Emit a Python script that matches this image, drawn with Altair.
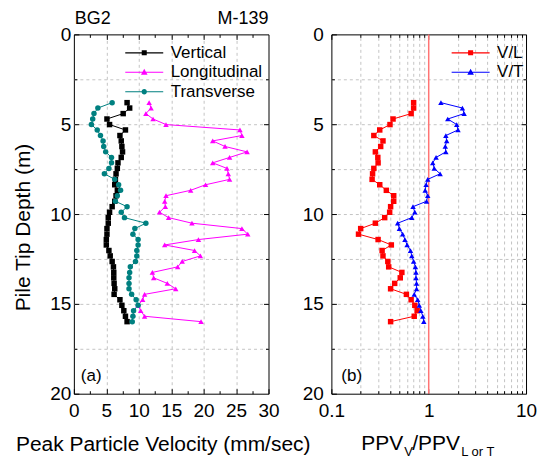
import altair as alt
import pandas as pd

# ---------------- data ----------------
depth_m = [3.80, 4.10, 4.41, 4.71, 5.02, 5.32, 5.63, 5.93, 6.24, 6.54,
           6.85, 7.15, 7.46, 7.76, 8.07, 8.37, 8.68, 8.98, 9.29, 9.59,
           9.90, 10.20, 10.51, 10.81, 11.12, 11.42, 11.72, 12.03, 12.33, 12.64,
           12.94, 13.25, 13.55, 13.86, 14.16, 14.47, 14.77, 15.08, 15.38, 15.69,
           15.99]

ppv_vertical = [8.2, 8.6, 7.6, 5.1, 5.5, 7.95, 7.1, 7.3, 7.4, 7.5,
                7.3, 6.8, 6.7, 6.5, 6.4, 6.3, 6.7, 6.5, 6.3, 5.9,
                5.5, 5.3, 5.3, 5.1, 5.1, 5.0, 5.0, 5.4, 5.6, 5.9,
                6.1, 6.15, 6.15, 6.2, 6.3, 6.2, 7.1, 7.4, 7.7, 7.95,
                8.2]

ppv_longitudinal = [11.6, 11.9, 11.1, 12.2, 14.2, 25.6, 25.9, 21.4, 23.3, 26.7,
                    24.0, 21.4, 23.6, 23.8, 24.0, 20.3, 18.0, 14.2, 14.0, 14.1,
                    13.2, 14.6, 18.2, 25.9, 26.8, 19.2, 14.0, 18.6, 19.5, 16.7,
                    16.0, 12.1, 12.3, 14.4, 15.7, 10.9, 10.6, 9.9, 10.3, 10.9,
                    19.6]

ppv_transverse = [5.9, 3.7, 3.1, 2.9, 2.7, 3.6, 4.1, 4.5, 4.6, 4.9,
                  5.8, 5.8, 5.4, 4.7, 6.3, 6.9, 7.2, 6.7, 6.4, 8.2,
                  7.3, 7.8, 11.1, 9.4, 9.1, 9.9, 9.9, 9.7, 9.7, 9.5,
                  8.7, 8.6, 8.5, 8.5, 8.5, 8.9, 9.6, 9.9, 9.2, 9.1,
                  9.0]

ratio_v_l = [0.70, 0.70, 0.66, 0.43, 0.40, 0.314, 0.273, 0.339, 0.321, 0.283,
             0.30, 0.302, 0.273, 0.265, 0.262, 0.314, 0.367, 0.437, 0.437, 0.406,
             0.397, 0.353, 0.283, 0.20, 0.19, 0.302, 0.413, 0.332, 0.339, 0.38,
             0.388, 0.53, 0.51, 0.447, 0.406, 0.59, 0.66, 0.72, 0.76, 0.71,
             0.406]

ratio_v_t = [1.335, 2.22, 2.31, 1.57, 1.94, 2.0, 1.5, 1.53, 1.48, 1.5,
             1.19, 1.1, 1.14, 1.31, 0.977, 0.94, 0.92, 0.977, 0.95, 0.69,
             0.72, 0.67, 0.48, 0.50, 0.54, 0.57, 0.60, 0.65, 0.67, 0.70,
             0.73, 0.74, 0.74, 0.75, 0.75, 0.71, 0.77, 0.80, 0.83, 0.87,
             0.89]

ref_ratio = [1.0]

left_series = ["Vertical", "Longitudinal", "Transverse"]
left_colors = ["#000000", "#ff00ff", "#008080"]
left_shapes = ["square", "triangle-up", "circle"]
right_series = ["V/L", "V/T"]
right_colors = ["#ff0000", "#0000ff"]
right_shapes = ["square", "triangle-up"]

x_left_ticks = [0, 5, 10, 15, 20, 25, 30]
x_left_inner = [5, 10, 15, 20, 25]
x_left_minor = [2.5, 7.5, 12.5, 17.5, 22.5, 27.5]
x_right_ticks = [0.1, 1, 10]
x_right_minor = [0.2, 0.3, 0.4, 0.5, 0.6, 0.7, 0.8, 0.9, 2, 3, 4, 5, 6, 7, 8, 9]
y_ticks = [0, 5, 10, 15, 20]
y_inner = [5, 10, 15]
y_minor = [2.5, 7.5, 12.5, 17.5]

header_left = "BG2"
header_right = "M-139"
panel_tags = ["(a)", "(b)"]
x_title_left = "Peak Particle Velocity (mm/sec)"
x_title_right_parts = ["PPV", "V", "/PPV", "L or T"]
y_title = "Pile Tip Depth (m)"

FONT = "Liberation Sans"
n = len(depth_m)

left_df = pd.DataFrame({
    "depth": depth_m * 3,
    "value": ppv_vertical + ppv_longitudinal + ppv_transverse,
    "series": [left_series[0]] * n + [left_series[1]] * n + [left_series[2]] * n,
})
right_df = pd.DataFrame({
    "depth": depth_m * 2,
    "value": ratio_v_l + ratio_v_t,
    "series": [right_series[0]] * n + [right_series[1]] * n,
})
ref_df = pd.DataFrame({"value": ref_ratio})

# ---------------- helpers ----------------
ys = alt.Scale(domain=[0, 20], reverse=True, nice=False, zero=False)
xs_left = alt.Scale(domain=[0, 30], nice=False, zero=False)
xs_right = alt.Scale(type="log", domain=[0.1, 10], nice=False)


def tick_axis(orient, values, size, grid=False, **kw):
    return alt.Axis(orient=orient, values=values, tickSize=size, offset=-size,
                    labels=False, grid=grid, title=None, domain=False, **kw)


LINE = "M-3.17,-0.09H3.17V0.09H-3.17Z "
SQ = LINE + "M-0.42,-0.42H0.42V0.42H-0.42Z"
TRI = LINE + "M0,-0.58L0.55,0.4H-0.55Z"
CIRC = LINE + "M-0.45,0A0.45,0.45 0 1,1 0.45,0A0.45,0.45 0 1,1 -0.45,0Z"


def legend(x, y):
    return alt.Legend(title=None, orient="none", legendX=x, legendY=y,
                      symbolSize=144, symbolOffset=13, labelOffset=18,
                      labelFont=FONT, labelFontSize=17, labelColor="black",
                      rowPadding=1.5, padding=0, symbolStrokeWidth=0,
                      symbolOpacity=1)


def text(t, x, y, size, align="left"):
    return alt.Chart(pd.DataFrame({"t": [t]})).mark_text(
        font=FONT, fontSize=size, align=align, baseline="alphabetic", color="black"
    ).encode(x=alt.value(x), y=alt.value(y), text="t:N")


def panel(df, series, colors, shapes, paths, xs, x_major, x_minor, x_grid_vals,
          x_grid_on_minor, x_fmt, x_title, y_title_on, y_lab_pad, leg_x, extra):
    cs = alt.Scale(domain=series, range=colors)
    bottom_kw = dict(orient="bottom", values=x_major, tickSize=5, offset=-5,
                     labels=True, labelPadding=8, format=x_fmt, grid=False,
                     domain=False, labelFlush=False, labelOverlap=False)
    if x_title:
        major_bottom = alt.Axis(title=x_title, titleX=89, titleY=62,
                                titleBaseline="alphabetic", **bottom_kw)
    else:
        major_bottom = alt.Axis(title=None, **bottom_kw)
    left_kw = dict(orient="left", values=y_ticks, tickSize=5, offset=-5,
                   labels=True, labelPadding=y_lab_pad, grid=False,
                   domain=False, labelFlush=False, labelOverlap=False)
    if y_title_on:
        major_left = alt.Axis(title=y_title, titleX=-49, titleY=193,
                              titleBaseline="alphabetic", **left_kw)
    else:
        major_left = alt.Axis(title=None, **left_kw)
    lines = alt.Chart(df).mark_line(strokeWidth=1).encode(
        x=alt.X("value:Q", scale=xs, axis=major_bottom),
        y=alt.Y("depth:Q", scale=ys, axis=major_left),
        color=alt.Color("series:N", scale=cs, legend=None),
        order=alt.Order("depth:Q"),
    )
    pts = alt.Chart(df).mark_point(filled=True, size=30, opacity=1).encode(
        x=alt.X("value:Q", scale=xs,
                axis=tick_axis("top", x_grid_vals if not x_grid_on_minor else x_major, 5,
                               grid=not x_grid_on_minor)),
        y=alt.Y("depth:Q", scale=ys, axis=tick_axis("right", y_inner, 5, grid=True)),
        color=alt.Color("series:N", scale=cs, legend=None),
        shape=alt.Shape("series:N", scale=alt.Scale(domain=series, range=shapes), legend=None),
    )
    leg = alt.Chart(df).transform_filter("false").mark_point(
        filled=True, opacity=1, strokeWidth=0
    ).encode(
        x=alt.X("value:Q", scale=xs, axis=tick_axis("bottom", x_minor, 3, grid=x_grid_on_minor)),
        y=alt.Y("depth:Q", scale=ys, axis=tick_axis("left", y_minor, 3, grid=True)),
        color=alt.Color("series:N", scale=cs, legend=legend(leg_x, 10)),
        shape=alt.Shape("series:N", scale=alt.Scale(domain=series, range=paths),
                        legend=legend(leg_x, 10)),
    )
    ax2 = alt.Chart(df).transform_filter("false").mark_point().encode(
        x=alt.X("value:Q", scale=xs, axis=tick_axis("top", x_minor, 3)),
        y=alt.Y("depth:Q", scale=ys, axis=tick_axis("right", y_minor, 3)),
    )
    layers = extra[0] + [lines, pts, leg, ax2] + extra[1]
    return alt.layer(*layers).resolve_scale(
        color="independent", shape="independent"
    ).resolve_axis(x="independent", y="independent").properties(width=195, height=360)


left_texts = [
    text(header_left, 1, -10, 18),
    text(header_right, 195, -10, 18, align="right"),
    text(panel_tags[0], 7, 347, 17),
]
left = panel(left_df, left_series, left_colors, left_shapes, [SQ, TRI, CIRC],
             xs_left, x_left_ticks, x_left_minor, x_left_inner, False, "d",
             x_title_left, True, 3, 49, ([], left_texts))

rule = alt.Chart(ref_df).mark_rule(color="#ff7474", strokeWidth=1.5).encode(
    x=alt.X("value:Q", scale=xs_right, axis=None)
)
right_texts = [
    text(panel_tags[1], 10, 347, 17),
    text(x_title_right_parts[0], 30, 416, 21),
    text(x_title_right_parts[1], 73, 422, 13),
    text(x_title_right_parts[2], 81, 416, 21),
    text(x_title_right_parts[3], 130, 422, 13),
]
right = panel(right_df, right_series, right_colors, right_shapes, [SQ, TRI],
              xs_right, x_right_ticks, x_right_minor, x_right_ticks, True, "~g",
              None, False, 8, 118, ([rule], right_texts))

chart = alt.hconcat(left, right, spacing=63, bounds="flush").properties(
    padding={"left": 4, "top": 1, "right": 0, "bottom": 0}
).configure_view(
    stroke="black", strokeWidth=1
).configure_axis(
    labelFont=FONT, labelFontSize=19, labelColor="black",
    tickColor="black", tickWidth=1,
    gridColor="#c4c4c4", gridDash=[3, 3], gridWidth=1,
    titleFont=FONT, titleFontSize=21, titleFontWeight="normal", titleColor="black",
)

chart.save("out.html", embed_options={"renderer": "svg", "actions": False})
